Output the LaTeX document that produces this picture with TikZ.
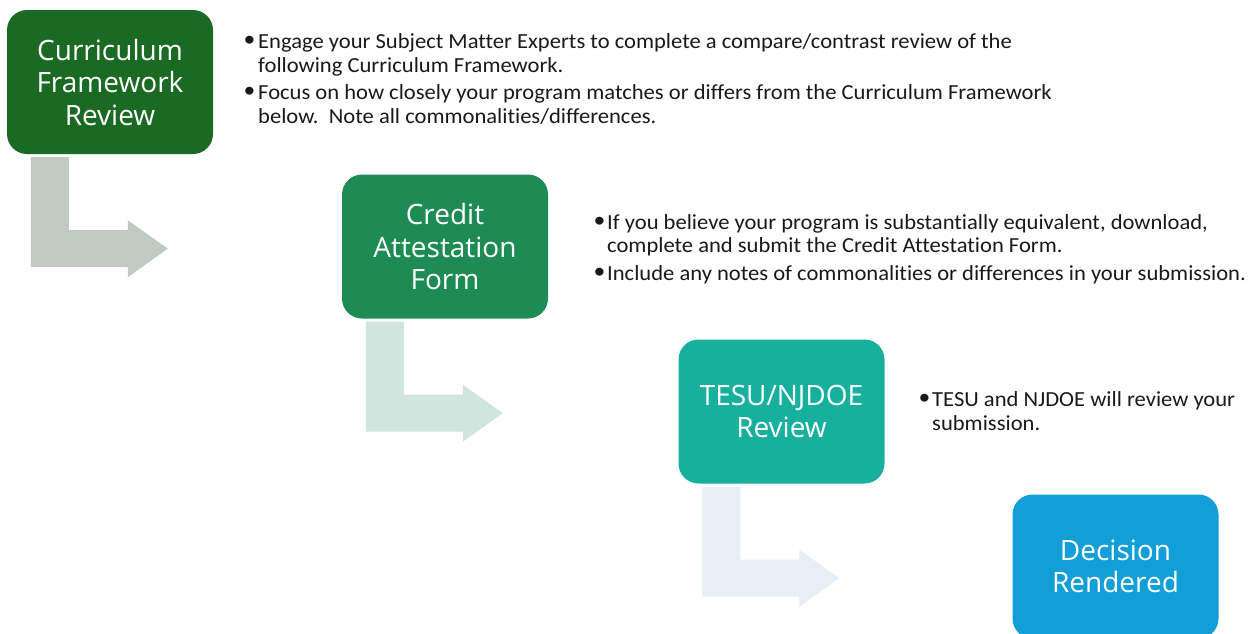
\documentclass[tikz,border=0pt]{standalone}
\usepackage{fontspec}
\setmainfont{Carlito}[Ligatures={NoCommon},FakeStretch=1.05]
\newfontfamily\boxfont{Open Sans}
\usetikzlibrary{calc}
\definecolor{cA}{RGB}{27,106,36}
\definecolor{cB}{RGB}{28,140,84}
\definecolor{cC}{RGB}{23,175,157}
\definecolor{cD}{RGB}{18,158,214}
\definecolor{aA}{RGB}{191,203,192}
\definecolor{aB}{RGB}{207,229,222}
\definecolor{aC}{RGB}{230,238,246}
\definecolor{txt}{RGB}{25,25,25}
\begin{document}
\begin{tikzpicture}[x=1pt,y=-1pt,
  box/.style={rectangle, rounded corners=20pt, minimum width=206pt, minimum height=144pt,
    inner sep=0pt, text=white, align=center, font=\boxfont\fontsize{28}{32.5}\selectfont},
  bl/.style={anchor=base west, inner sep=0pt, text=txt, font=\fontsize{21.5}{24}\selectfont},
  bullet/.style={anchor=base, inner sep=0pt, text=txt, font=\fontsize{22.5}{24}\selectfont},
  bent/.pic={\fill[#1] (0,0) -- (38,0) -- (38,73) -- (97,73) -- (97,63) -- (137,91.5)
     -- (97,120) -- (97,110) -- (0,110) -- cycle;}]
\useasboundingbox (0,0) rectangle (1260,633);
\clip (0,0) rectangle (1260,633);

% boxes
\node[box, fill=cA] (b1) at (110,82) {Curriculum\\Framework\\Review};
\node[box, fill=cB] (b2) at (445,246.5) {Credit\\Attestation\\Form};
\node[box, fill=cC] (b3) at (781.5,411.5) {TESU/NJDOE\\Review};
\node[box, fill=cD] (b4) at (1115.5,566.5) {Decision\\Rendered};

% bent arrows
\pic at ($(b1.south west)+(24,3)$) {bent=aA};
\pic at ($(b2.south west)+(24,3)$) {bent=aB};
\pic at ($(b3.south west)+(24,3)$) {bent=aC};

% text 1
\node[bullet] (p1) at (249.5,46.5) {•};
\node[bl] (t1a) at (258,48) {Engage your Subject Matter Experts to complete a compare/contrast review of the};
\node[bl] (t1b) at (258,72.5) {following Curriculum Framework.};
\node[bullet] (p2) at (249.5,97.5) {•};
\node[bl] (t1c) at (258,99) {Focus on how closely your program matches or differs from the Curriculum Framework};
\node[bl] (t1d) at (258,123.5) {below.\ \ Note all commonalities/differences.};

% text 2
\node[bullet] (p3) at (599.5,227.5) {•};
\node[bl] (t2a) at (607,229) {If you believe your program is substantially equivalent, download,};
\node[bl] (t2b) at (607,252.5) {complete and submit the Credit Attestation Form.};
\node[bullet] (p4) at (599.5,278.5) {•};
\node[bl] (t2c) at (607,280) {Include any notes of commonalities or differences in your submission.};

% text 3
\node[bullet] (p5) at (924.5,404.5) {•};
\node[bl] (t3a) at (932,406) {TESU and NJDOE will review your};
\node[bl] (t3b) at (932,430) {submission.};
\end{tikzpicture}
\end{document}
